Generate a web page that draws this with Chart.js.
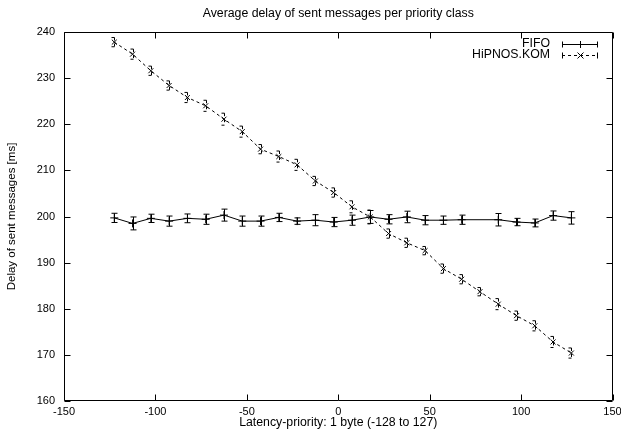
<!DOCTYPE html>
<html>
<head>
<meta charset="utf-8">
<script src="https://cdn.jsdelivr.net/npm/chart.js@4"></script>
<style>
  body { margin: 0; background: #fff; }
  canvas { display: block; }
</style>
</head>
<body>
<canvas id="delayChart" width="621" height="440"></canvas>
<script>
// priority buckets (x) and measured delays (ms)
const fifoPrio = [-122.5, -112.5, -102.5, -92.5, -82.5, -72.5, -62.5, -52.5, -42.5, -32.5, -22.5, -12.5, -2.5,
    7.5, 17.5, 27.5, 37.5, 47.5, 57.5, 67.5, 87.5, 97.5, 107.5, 117.5, 127.5];
const fifoDelay = [199.7, 198.5, 199.6, 199.0, 199.6, 199.4, 200.3, 199.0, 199.0, 199.8, 199.0, 199.2, 198.8,
    199.2, 199.9, 199.4, 199.9, 199.2, 199.2, 199.3, 199.3, 198.8, 198.6, 200.2, 199.7];
const fifoErr = [1.0, 1.4, 0.9, 1.1, 0.95, 1.1, 1.3, 1.1, 1.1, 0.9, 0.7, 1.2, 1.0,
    1.1, 1.4, 1.0, 1.25, 1.0, 0.9, 1.0, 1.35, 0.8, 0.85, 1.0, 1.35];

const hipnosPrio = [-122.5, -112.5, -102.5, -92.5, -82.5, -72.5, -62.5, -52.5, -42.5, -32.5, -22.5, -12.5, -2.5,
    7.5, 17.5, 27.5, 37.5, 47.5, 57.5, 67.5, 77.5, 87.5, 97.5, 107.5, 117.5, 127.5];
const hipnosDelay = [237.8, 235.2, 231.6, 228.4, 225.8, 224.0, 221.1, 218.4, 214.6, 213.0, 211.2, 207.7, 205.2,
    202.1, 199.9, 196.3, 194.3, 192.6, 188.7, 186.4, 183.7, 181.0, 178.5, 176.3, 172.8, 170.4];
const hipnosErr = [1.0, 1.1, 1.0, 1.0, 1.1, 1.2, 1.3, 1.2, 1.0, 1.2, 1.2, 1.0, 1.0,
    1.3, 1.5, 1.0, 1.0, 0.9, 1.0, 1.0, 0.9, 1.2, 1.0, 1.1, 1.2, 1.1];

const xTicks = [-150, -100, -50, 0, 50, 100, 150];
const yTicks = [160, 170, 180, 190, 200, 210, 220, 230, 240];

const chartTitle = 'Average delay of sent messages per priority class';

const FONT = '"Liberation Sans", Arial, Helvetica, sans-serif';
const TEXT_SIZE = 12.3;
Chart.defaults.font.family = FONT;
Chart.defaults.font.size = 11;
Chart.defaults.color = '#000';

const toPoints = (xs, ys) => xs.map((x, i) => ({ x, y: ys[i] }));

// vertical error bars with small caps
const errorBars = {
    id: 'errorBars',
    afterDatasetsDraw(chart) {
        const { ctx, scales: { y } } = chart;
        chart.data.datasets.forEach((ds, di) => {
            const meta = chart.getDatasetMeta(di);
            ctx.save();
            ctx.strokeStyle = '#000';
            ctx.lineWidth = 1;
            ctx.setLineDash(ds.borderDash || []);
            meta.data.forEach((pt, i) => {
                const v = ds.data[i].y, e = ds.errors[i];
                const top = y.getPixelForValue(v + e);
                const bot = y.getPixelForValue(v - e);
                const px = Math.round(pt.x) + 0.5;
                ctx.beginPath();
                ctx.moveTo(px, top); ctx.lineTo(px, bot);
                ctx.moveTo(px - 3, top); ctx.lineTo(px + 3, top);
                ctx.moveTo(px - 3, bot); ctx.lineTo(px + 3, bot);
                ctx.stroke();
            });
            ctx.restore();
        });
    }
};

// gnuplot-like frame with inward (mirrored) ticks, title over the plot area, and the key
const frame = {
    id: 'frame',
    afterDraw(chart) {
        const { ctx, chartArea: a, scales: { x, y } } = chart;
        const L = Math.round(a.left) + 0.5, R = Math.round(a.right) - 0.5;
        const T = Math.round(a.top) + 0.5, B = Math.round(a.bottom) - 0.5;
        ctx.save();
        ctx.strokeStyle = '#000';
        ctx.lineWidth = 1;
        ctx.beginPath();
        ctx.rect(L, T, R - L, B - T);
        xTicks.forEach(t => {
            const px = Math.round(x.getPixelForValue(t)) + 0.5;
            ctx.moveTo(px, B); ctx.lineTo(px, B - 6);
            ctx.moveTo(px, T); ctx.lineTo(px, T + 6);
        });
        yTicks.forEach(t => {
            const py = Math.round(y.getPixelForValue(t)) + 0.5;
            ctx.moveTo(L, py); ctx.lineTo(L + 6, py);
            ctx.moveTo(R, py); ctx.lineTo(R - 6, py);
        });
        ctx.stroke();

        ctx.font = TEXT_SIZE + 'px ' + FONT;
        ctx.fillStyle = '#000';
        ctx.textBaseline = 'middle';

        // title, centred on the plot area like gnuplot
        ctx.textAlign = 'center';
        ctx.fillText(chartTitle, (a.left + a.right) / 2, 14);

        // key
        ctx.textAlign = 'right';
        const rows = [['FIFO', 44, [], 'cross'], ['HiPNOS.KOM', 55, [3, 3], 'crossRot']];
        rows.forEach(([label, ky, dash, style]) => {
            ctx.fillText(label, 550, ky);
            const yy = ky + 0.5;
            ctx.setLineDash(dash);
            ctx.beginPath();
            ctx.moveTo(562, yy); ctx.lineTo(598, yy);
            ctx.stroke();
            ctx.setLineDash([]);
            ctx.beginPath();
            ctx.moveTo(562.5, yy - 3); ctx.lineTo(562.5, yy + 3);
            ctx.moveTo(597.5, yy - 3); ctx.lineTo(597.5, yy + 3);
            if (style === 'cross') {
                ctx.moveTo(580.5, yy - 3.5); ctx.lineTo(580.5, yy + 3.5);
                ctx.moveTo(577, yy); ctx.lineTo(584, yy);
            } else {
                ctx.moveTo(577.5, yy - 3); ctx.lineTo(583.5, yy + 3);
                ctx.moveTo(583.5, yy - 3); ctx.lineTo(577.5, yy + 3);
            }
            ctx.stroke();
        });
        ctx.restore();
    }
};

new Chart(document.getElementById('delayChart'), {
    type: 'scatter',
    data: {
        datasets: [{
            label: 'FIFO',
            data: toPoints(fifoPrio, fifoDelay),
            errors: fifoErr,
            showLine: true,
            borderColor: '#000',
            backgroundColor: '#000',
            borderWidth: 1,
            pointStyle: 'cross',
            pointRadius: 4,
            pointBorderWidth: 1
        }, {
            label: 'HiPNOS.KOM',
            data: toPoints(hipnosPrio, hipnosDelay),
            errors: hipnosErr,
            showLine: true,
            borderColor: '#000',
            backgroundColor: '#000',
            borderWidth: 1,
            borderDash: [3, 3],
            pointStyle: 'crossRot',
            pointRadius: 3.5,
            pointBorderWidth: 1
        }]
    },
    options: {
        responsive: false,
        animation: false,
        layout: { padding: { left: 0, right: 8.5, top: 32, bottom: 0 } },
        plugins: {
            legend: { display: false },
            tooltip: { enabled: false },
            title: { display: false }
        },
        scales: {
            x: {
                type: 'linear',
                min: -150,
                max: 150,
                afterBuildTicks: s => { s.ticks = xTicks.map(v => ({ value: v })); },
                ticks: { padding: 4, maxRotation: 0 },
                grid: { display: false, drawTicks: false },
                border: { display: false },
                title: {
                    display: true,
                    text: 'Latency-priority: 1 byte (-128 to 127)',
                    font: { size: TEXT_SIZE },
                    padding: { top: 0, bottom: 9.6 }
                },
                afterFit: s => { s.height = 39; s.paddingLeft = 0; s.paddingRight = 0; }
            },
            y: {
                type: 'linear',
                min: 160,
                max: 240,
                afterBuildTicks: s => { s.ticks = yTicks.map(v => ({ value: v })); },
                ticks: { padding: 9 },
                grid: { display: false, drawTicks: false },
                border: { display: false },
                title: {
                    display: true,
                    text: 'Delay of sent messages [ms]',
                    font: { size: 11.5 },
                    padding: { top: 5, bottom: 0 }
                },
                afterFit: s => { s.width = 64; s.paddingTop = 0; s.paddingBottom = 0; }
            }
        }
    },
    plugins: [errorBars, frame]
});
</script>
</body>
</html>
